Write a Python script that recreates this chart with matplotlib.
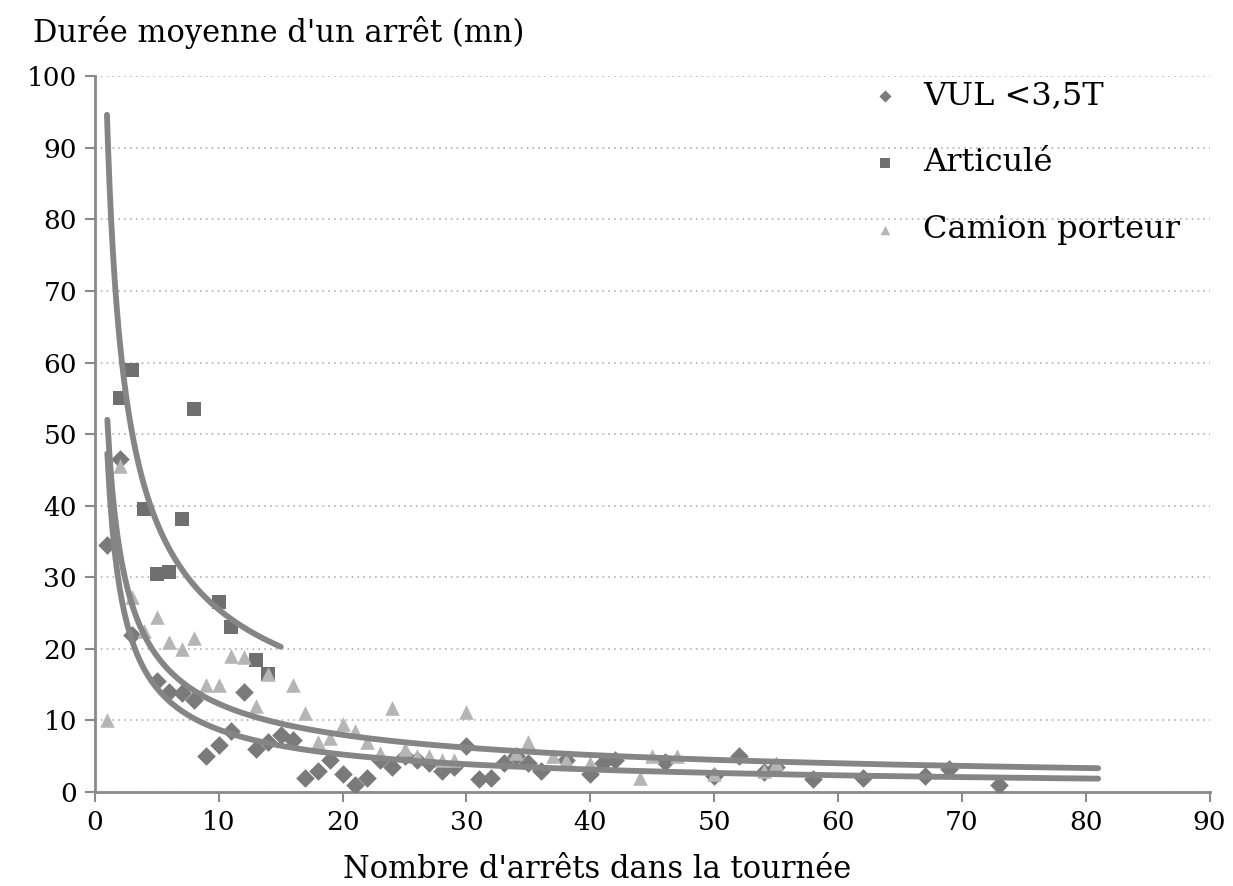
import numpy as np
import matplotlib
matplotlib.use("Agg")
import matplotlib.pyplot as plt

plt.rcParams['font.family'] = ['DejaVu Serif']

# data
vul_x = [1, 2, 3, 5, 6, 7, 8, 9, 10, 11, 12, 13, 14, 15, 16, 17, 18, 19, 20, 21, 22,
         23, 24, 25, 26, 27, 28, 29, 30, 31, 32, 33, 34, 35, 36, 38, 40, 41, 42, 46,
         50, 52, 54, 55, 58, 62, 67, 69, 73]
vul_y = [34.5, 46.5, 22, 15.5, 14, 13.8, 12.8, 5, 6.6, 8.5, 14, 6, 7, 8, 7.3, 2, 3, 4.5,
         2.5, 1, 2, 4.5, 3.5, 5, 4.5, 4, 3, 3.5, 6.5, 1.8, 2, 4, 5, 4, 3, 4.5, 2.5, 4,
         4.5, 4.2, 2.2, 5, 2.8, 3.5, 1.8, 2, 2.2, 3.2, 1]

art_x = [2, 3, 4, 5, 6, 7, 8, 10, 11, 13, 14]
art_y = [55, 59, 39.5, 30.5, 30.8, 38.2, 53.5, 26.5, 23, 18.5, 16.5]

cam_x = [1, 2, 3, 4, 5, 6, 7, 8, 9, 10, 11, 12, 13, 14, 16, 17, 18, 19, 20, 21, 22,
         23, 24, 25, 26, 27, 28, 29, 30, 34, 35, 37, 38, 40, 44, 45, 47, 50, 54, 55]
cam_y = [10, 45.5, 27.2, 22.5, 24.5, 21, 20, 21.5, 15, 15, 19, 18.8, 12, 16.5, 15, 11,
         7, 7.5, 9.5, 8.5, 7, 5.5, 11.7, 6, 5, 5, 4.5, 4.5, 11.2, 5.5, 7, 5, 4.5, 4,
         2, 5, 5, 2.5, 3, 4]

# power trend lines y = a * x^b (coefficients estimated from the chart)
trend_a = [47.3, 93, 52]
trend_b = [-0.734, -0.562, -0.625]
trend_range = [(1, 81), (0.97, 15), (1, 81)]

fig = plt.figure(figsize=(12.33, 8.86), dpi=100)
ax = fig.add_axes([0.077, 0.106, 0.904, 0.808])

ax.scatter(vul_x, vul_y, marker='D', s=90, color='#7a7a7a', label='VUL <3,5T', zorder=3, linewidths=0)
ax.scatter(art_x, art_y, marker='s', s=110, color='#6f6f6f', label='Articulé', zorder=3, linewidths=0)
ax.scatter(cam_x, cam_y, marker='^', s=110, color='#b5b5b5', label='Camion porteur', zorder=3, linewidths=0)

for a, b, (x0, x1) in zip(trend_a, trend_b, trend_range):
    xs = np.linspace(x0, x1, 400)
    ax.plot(xs, a * xs ** b, color='#858585', lw=4.2, solid_capstyle='round', zorder=4)

ax.set_xlim(0, 90)
ax.set_ylim(0, 100)
ax.set_xticks(range(0, 91, 10))
ax.set_yticks(range(0, 101, 10))
ax.yaxis.grid(True, linestyle=(0, (1, 2.5)), color='#b0b0b0', lw=1.2)
ax.set_axisbelow(True)
for s in ['top', 'right']:
    ax.spines[s].set_visible(False)
for s in ['left', 'bottom']:
    ax.spines[s].set_color('#8a8a8a')
    ax.spines[s].set_linewidth(2)
ax.tick_params(direction='out', length=7, width=1.5, color='#8a8a8a', labelsize=19, pad=6)

fig.text(597 / 1233, 1 - 870 / 886, "Nombre d'arrêts dans la tournée", fontsize=22,
         ha='center', va='center')
fig.text(0.027, 0.963, "Durée moyenne d'un arrêt (mn)", fontsize=22, ha='left', va='center')

leg = ax.legend(loc='upper right', bbox_to_anchor=(0.985, 1.012), frameon=False, fontsize=23,
                markerscale=0.65, handletextpad=0.2, labelspacing=1.12, borderaxespad=0)

fig.savefig("out.png", dpi=100)
